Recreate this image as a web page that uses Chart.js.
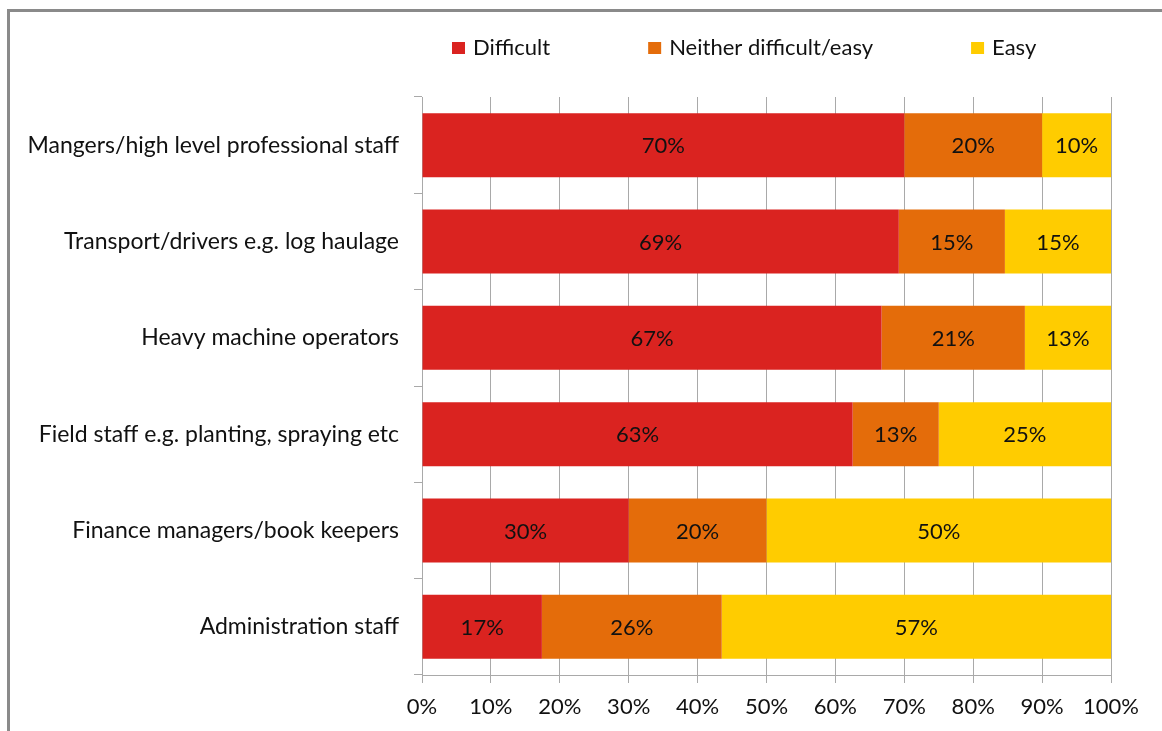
<!DOCTYPE html>
<html>
<head>
<meta charset="utf-8">
<script src="https://cdn.jsdelivr.net/npm/chart.js@4/dist/chart.umd.min.js"></script>
<style>
  html, body { margin: 0; padding: 0; background: #fff; }
  #wrap { position: relative; width: 1162px; height: 731px; overflow: hidden; }
  #frame { position: absolute; left: 7px; top: 9px; width: 1200px; height: 800px; border: 3px solid #8a8a8a; box-sizing: border-box; }
  #chart { position: absolute; left: 0; top: 0; }
</style>
</head>
<body>
<div id="wrap">
  <div id="frame"></div>
  <canvas id="chart" width="1162" height="731"></canvas>
</div>
<script>
const categories = [
  "Mangers/high level professional staff",
  "Transport/drivers e.g. log haulage",
  "Heavy machine operators",
  "Field staff e.g. planting, spraying etc",
  "Finance managers/book keepers",
  "Administration staff"
];
const difficult = [70.0, 69.2, 66.7, 62.5, 30.0, 17.4];
const neither = [20.0, 15.4, 20.8, 12.5, 20.0, 26.1];
const easy = [10.0, 15.4, 12.5, 25.0, 50.0, 56.5];
const xTicks = [0, 10, 20, 30, 40, 50, 60, 70, 80, 90, 100];

const FONT = "Lato, 'Liberation Sans', sans-serif";
const SIZE = 22;
const TEXT = "#111";
const GRID = "#a9a9a9";

// values written inside each segment
const segmentLabels = {
  id: "segmentLabels",
  afterDatasetsDraw(chart) {
    const ctx = chart.ctx;
    ctx.save();
    ctx.font = SIZE + "px " + FONT;
    ctx.fillStyle = TEXT;
    ctx.textAlign = "center";
    ctx.textBaseline = "middle";
    chart.data.datasets.forEach((ds, i) => {
      chart.getDatasetMeta(i).data.forEach((bar, j) => {
        const p = bar.getCenterPoint();
        ctx.fillText(Math.round(ds.data[j]) + "%", p.x, p.y + 1);
      });
    });
    ctx.restore();
  }
};

// legend drawn along the top like the spreadsheet one
const topLegend = {
  id: "topLegend",
  afterDraw(chart) {
    const ctx = chart.ctx;
    ctx.save();
    ctx.font = SIZE + "px " + FONT;
    ctx.textBaseline = "middle";
    let x = 452;
    const y = 48;
    chart.data.datasets.forEach(ds => {
      ctx.fillStyle = ds.backgroundColor;
      ctx.fillRect(x, y - 6, 13, 12);
      ctx.fillStyle = TEXT;
      ctx.fillText(ds.label, x + 21, y);
      x += 21 + ctx.measureText(ds.label).width + 98;
    });
    ctx.restore();
  }
};

new Chart(document.getElementById("chart"), {
  type: "bar",
  data: {
    labels: categories,
    datasets: [
      { label: "Difficult", data: difficult, backgroundColor: "#da2320" },
      { label: "Neither difficult/easy", data: neither, backgroundColor: "#e46c0a" },
      { label: "Easy", data: easy, backgroundColor: "#ffcc00" }
    ]
  },
  options: {
    indexAxis: "y",
    responsive: false,
    animation: false,
    events: [],
    datasets: { bar: { categoryPercentage: 1, barPercentage: 0.665 } },
    layout: { padding: { top: 97, right: 51, left: 0, bottom: 0 } },
    scales: {
      x: {
        stacked: true,
        min: 0,
        max: 100,
        afterBuildTicks(scale) { scale.ticks = xTicks.map(v => ({ value: v })); },
        afterFit(scale) { scale.height = 56; },
        grid: { color: GRID, lineWidth: 1, tickLength: 8 },
        border: { color: GRID, width: 1 },
        ticks: {
          font: { family: FONT, size: SIZE },
          color: TEXT,
          padding: 11,
          maxRotation: 0,
          callback: v => v + "%"
        }
      },
      y: {
        stacked: true,
        afterFit(scale) { scale.width = 422; },
        grid: { drawOnChartArea: false, color: GRID, tickLength: 8 },
        border: { color: GRID, width: 1 },
        ticks: {
          font: { family: FONT, size: 23 },
          color: TEXT,
          padding: 15
        }
      }
    },
    plugins: {
      legend: { display: false },
      tooltip: { enabled: false }
    }
  },
  plugins: [segmentLabels, topLegend]
});
</script>
</body>
</html>
